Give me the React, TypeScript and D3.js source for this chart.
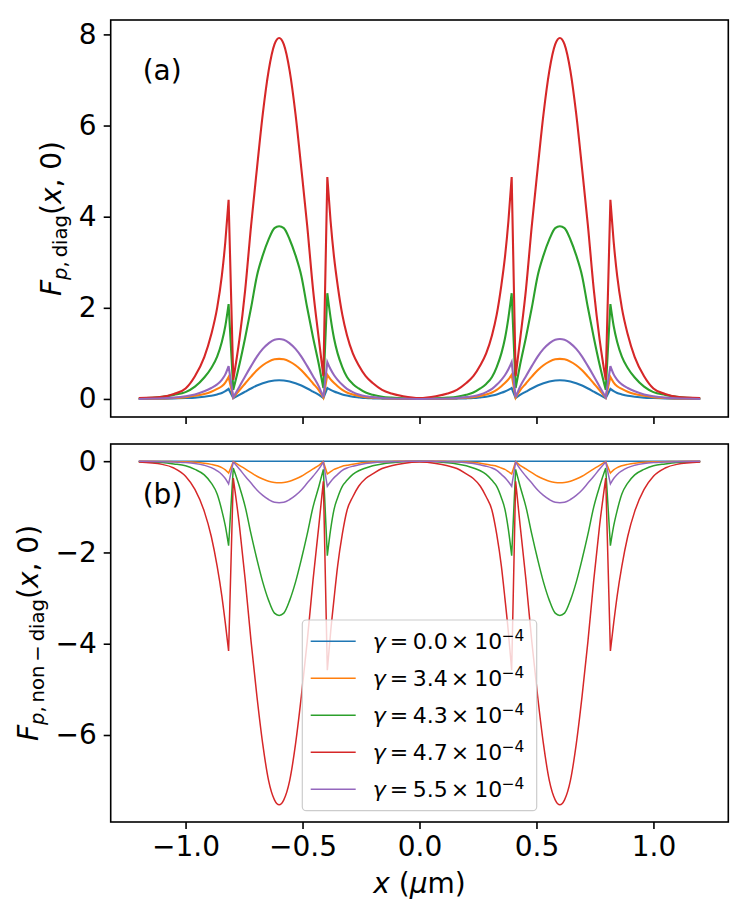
import React, { useRef, useEffect } from "react"
import * as d3 from "d3"

// sample positions along x (µm), shared by every curve
const xGrid = [
  -1.2, -1.1, -1.05, -1.0, -0.96, -0.92, -0.89, -0.865, -0.845, -0.83, -0.816,
  -0.796, -0.77, -0.745, -0.72, -0.695, -0.67, -0.645, -0.62, -0.6, -0.58, -0.555, -0.53, -0.505, -0.48, -0.455, -0.43, -0.411,
  -0.394, -0.38, -0.365, -0.35, -0.33, -0.31, -0.285, -0.26, -0.23, -0.2, -0.16, -0.12, -0.07,
  0,
  0.07, 0.12, 0.16, 0.2, 0.23, 0.26, 0.285, 0.31, 0.33, 0.35, 0.365, 0.38, 0.394,
  0.411, 0.43, 0.455, 0.48, 0.505, 0.53, 0.555, 0.58, 0.6, 0.62, 0.645, 0.67, 0.695, 0.72, 0.745, 0.77, 0.796,
  0.816, 0.83, 0.845, 0.865, 0.89, 0.92, 0.96, 1.0, 1.05, 1.1, 1.2,
]
// indices where the curves jump (interfaces at |x| = 0.4 and 0.8)
const segmentStarts = [0, 11, 28, 55, 72]

// panel (a): F_p,diag
const diagBlue = [
  0, 0.005, 0.01, 0.02, 0.03, 0.05, 0.07, 0.1, 0.13, 0.17, 0.22,
  0.02, 0.09, 0.16, 0.23, 0.295, 0.345, 0.385, 0.405, 0.41, 0.405, 0.385, 0.345, 0.295, 0.23, 0.16, 0.09, 0.02,
  0.24, 0.2, 0.165, 0.135, 0.1, 0.075, 0.05, 0.035, 0.02, 0.013, 0.008, 0.005, 0.002,
  0,
  0.002, 0.005, 0.008, 0.013, 0.02, 0.035, 0.05, 0.075, 0.1, 0.135, 0.165, 0.2, 0.24,
  0.02, 0.09, 0.16, 0.23, 0.295, 0.345, 0.385, 0.405, 0.41, 0.405, 0.385, 0.345, 0.295, 0.23, 0.16, 0.09, 0.02,
  0.22, 0.17, 0.13, 0.1, 0.07, 0.05, 0.03, 0.02, 0.01, 0.005, 0,
]
const diagOrange = [
  0, 0.01, 0.02, 0.04, 0.07, 0.11, 0.16, 0.22, 0.28, 0.36, 0.48,
  0.03, 0.19, 0.34, 0.49, 0.63, 0.74, 0.82, 0.87, 0.88, 0.87, 0.82, 0.74, 0.63, 0.49, 0.34, 0.19, 0.03,
  0.53, 0.43, 0.35, 0.28, 0.2, 0.14, 0.1, 0.065, 0.04, 0.025, 0.015, 0.01, 0,
  0,
  0, 0.01, 0.015, 0.025, 0.04, 0.065, 0.1, 0.14, 0.2, 0.28, 0.35, 0.43, 0.53,
  0.03, 0.19, 0.34, 0.49, 0.63, 0.74, 0.82, 0.87, 0.88, 0.87, 0.82, 0.74, 0.63, 0.49, 0.34, 0.19, 0.03,
  0.48, 0.36, 0.28, 0.22, 0.16, 0.11, 0.07, 0.04, 0.02, 0.01, 0,
]
const diagGreen = [
  0.01, 0.045, 0.09, 0.15, 0.27, 0.47, 0.68, 0.93, 1.25, 1.6, 2.08,
  0.2, 0.75, 1.35, 2.0, 2.7, 3.15, 3.5, 3.75, 3.79, 3.75, 3.5, 3.15, 2.7, 2.0, 1.35, 0.75, 0.24,
  2.32, 1.78, 1.32, 1.0, 0.7, 0.48, 0.33, 0.23, 0.14, 0.09, 0.05, 0.03, 0.015,
  0.01,
  0.015, 0.03, 0.05, 0.09, 0.14, 0.23, 0.33, 0.48, 0.7, 1.0, 1.32, 1.78, 2.32,
  0.24, 0.75, 1.35, 2.0, 2.7, 3.15, 3.5, 3.75, 3.79, 3.75, 3.5, 3.15, 2.7, 2.0, 1.35, 0.75, 0.2,
  2.08, 1.6, 1.25, 0.93, 0.68, 0.47, 0.27, 0.15, 0.09, 0.045, 0.01,
]
const diagRed = [
  0.02, 0.05, 0.11, 0.23, 0.5, 0.92, 1.42, 2.0, 2.7, 3.45, 4.37,
  0.42, 1.3, 2.4, 3.8, 5.05, 6.25, 7.2, 7.78, 7.92, 7.78, 7.2, 6.25, 5.05, 3.8, 2.4, 1.3, 0.5,
  4.87, 3.9, 3.1, 2.5, 1.85, 1.4, 1.0, 0.74, 0.5, 0.35, 0.2, 0.12, 0.06,
  0.02,
  0.06, 0.12, 0.2, 0.35, 0.5, 0.74, 1.0, 1.4, 1.85, 2.5, 3.1, 3.9, 4.87,
  0.5, 1.3, 2.4, 3.8, 5.05, 6.25, 7.2, 7.78, 7.92, 7.78, 7.2, 6.25, 5.05, 3.8, 2.4, 1.3, 0.42,
  4.37, 3.45, 2.7, 2.0, 1.42, 0.92, 0.5, 0.23, 0.11, 0.05, 0.02,
]
const diagPurple = [
  0, 0.015, 0.03, 0.06, 0.1, 0.17, 0.24, 0.32, 0.42, 0.54, 0.72,
  0.04, 0.27, 0.5, 0.72, 0.93, 1.1, 1.22, 1.3, 1.315, 1.3, 1.22, 1.1, 0.93, 0.72, 0.5, 0.27, 0.04,
  0.81, 0.65, 0.52, 0.42, 0.31, 0.22, 0.15, 0.1, 0.06, 0.04, 0.02, 0.01, 0.005,
  0,
  0.005, 0.01, 0.02, 0.04, 0.06, 0.1, 0.15, 0.22, 0.31, 0.42, 0.52, 0.65, 0.81,
  0.04, 0.27, 0.5, 0.72, 0.93, 1.1, 1.22, 1.3, 1.315, 1.3, 1.22, 1.1, 0.93, 0.72, 0.5, 0.27, 0.04,
  0.72, 0.54, 0.42, 0.32, 0.24, 0.17, 0.1, 0.06, 0.03, 0.015, 0,
]

// panel (b): F_p,non-diag
const nonDiagBlue = [
  0, 0, 0, 0, 0, 0, 0, 0, 0, 0, 0,
  0, 0, 0, 0, 0, 0, 0, 0, 0, 0, 0, 0, 0, 0, 0, 0, 0,
  0, 0, 0, 0, 0, 0, 0, 0, 0, 0, 0, 0, 0,
  0,
  0, 0, 0, 0, 0, 0, 0, 0, 0, 0, 0, 0, 0,
  0, 0, 0, 0, 0, 0, 0, 0, 0, 0, 0, 0, 0, 0, 0, 0, 0,
  0, 0, 0, 0, 0, 0, 0, 0, 0, 0, 0,
]
const nonDiagOrange = [
  0, -0.005, -0.01, -0.015, -0.025, -0.045, -0.07, -0.1, -0.14, -0.19, -0.26,
  -0.01, -0.09, -0.17, -0.25, -0.33, -0.39, -0.44, -0.465, -0.47, -0.465, -0.44, -0.39, -0.33, -0.25, -0.17, -0.09, -0.01,
  -0.28, -0.23, -0.18, -0.15, -0.11, -0.09, -0.065, -0.045, -0.03, -0.02, -0.01, -0.005, 0,
  0,
  0, -0.005, -0.01, -0.02, -0.03, -0.045, -0.065, -0.09, -0.11, -0.15, -0.18, -0.23, -0.28,
  -0.01, -0.09, -0.17, -0.25, -0.33, -0.39, -0.44, -0.465, -0.47, -0.465, -0.44, -0.39, -0.33, -0.25, -0.17, -0.09, -0.01,
  -0.26, -0.19, -0.14, -0.1, -0.07, -0.045, -0.025, -0.015, -0.01, -0.005, 0,
]
const nonDiagGreen = [
  -0.01, -0.03, -0.06, -0.1, -0.18, -0.3, -0.48, -0.72, -1.08, -1.42, -1.85,
  -0.15, -0.55, -1.0, -1.6, -2.15, -2.65, -3.05, -3.33, -3.38, -3.33, -3.05, -2.65, -2.15, -1.6, -1.0, -0.55, -0.18,
  -2.07, -1.5, -1.05, -0.8, -0.55, -0.42, -0.29, -0.21, -0.15, -0.1, -0.06, -0.035, -0.015,
  -0.005,
  -0.015, -0.035, -0.06, -0.1, -0.15, -0.21, -0.29, -0.42, -0.55, -0.8, -1.05, -1.5, -2.07,
  -0.18, -0.55, -1.0, -1.6, -2.15, -2.65, -3.05, -3.33, -3.38, -3.33, -3.05, -2.65, -2.15, -1.6, -1.0, -0.55, -0.15,
  -1.85, -1.42, -1.08, -0.72, -0.48, -0.3, -0.18, -0.1, -0.06, -0.03, -0.01,
]
const nonDiagRed = [
  -0.02, -0.07, -0.15, -0.33, -0.62, -1.1, -1.65, -2.3, -2.95, -3.55, -4.16,
  -0.37, -1.4, -2.6, -3.95, -5.15, -6.2, -7.0, -7.42, -7.53, -7.42, -7.0, -6.2, -5.15, -3.95, -2.6, -1.4, -0.44,
  -4.58, -3.75, -3.0, -2.3, -1.6, -1.08, -0.78, -0.55, -0.38, -0.28, -0.16, -0.1, -0.05,
  -0.02,
  -0.05, -0.1, -0.16, -0.28, -0.38, -0.55, -0.78, -1.08, -1.6, -2.3, -3.0, -3.75, -4.58,
  -0.44, -1.4, -2.6, -3.95, -5.15, -6.2, -7.0, -7.42, -7.53, -7.42, -7.0, -6.2, -5.15, -3.95, -2.6, -1.4, -0.37,
  -4.16, -3.55, -2.95, -2.3, -1.65, -1.1, -0.62, -0.33, -0.15, -0.07, -0.02,
]
const nonDiagPurple = [
  0, -0.01, -0.02, -0.03, -0.05, -0.09, -0.14, -0.21, -0.29, -0.38, -0.5,
  -0.02, -0.17, -0.33, -0.48, -0.63, -0.75, -0.84, -0.9, -0.91, -0.9, -0.84, -0.75, -0.63, -0.48, -0.33, -0.17, -0.02,
  -0.55, -0.45, -0.36, -0.29, -0.2, -0.15, -0.11, -0.08, -0.05, -0.035, -0.02, -0.01, -0.005,
  0,
  -0.005, -0.01, -0.02, -0.035, -0.05, -0.08, -0.11, -0.15, -0.2, -0.29, -0.36, -0.45, -0.55,
  -0.02, -0.17, -0.33, -0.48, -0.63, -0.75, -0.84, -0.9, -0.91, -0.9, -0.84, -0.75, -0.63, -0.48, -0.33, -0.17, -0.02,
  -0.5, -0.38, -0.29, -0.21, -0.14, -0.09, -0.05, -0.03, -0.02, -0.01, 0,
]

const gammaLabels = ["0.0", "3.4", "4.3", "4.7", "5.5"]
const colors = ["#1f77b4", "#ff7f0e", "#2ca02c", "#d62728", "#9467bd"]
const xTicks = [-1.0, -0.5, 0.0, 0.5, 1.0]
const diagTicks = [0, 2, 4, 6, 8]
const nonDiagTicks = [0, -2, -4, -6]

const diagSeries = [diagBlue, diagOrange, diagGreen, diagRed, diagPurple]
const nonDiagSeries = [nonDiagBlue, nonDiagOrange, nonDiagGreen, nonDiagRed, nonDiagPurple]

const W = 748
const H = 916
const FONT = "DejaVu Sans"

const App: React.FC = () => {
  const svgRef = useRef<SVGSVGElement>(null)

  useEffect(() => {
    if (!svgRef.current) return
    const svg = d3.select(svgRef.current)
    svg.selectAll("*").remove()

    const left = 110.7
    const right = 728.3
    const panelA = { top: 20, bottom: 417 }
    const panelB = { top: 444, bottom: 822 }

    const pad = (lo: number, hi: number) => {
      const m = (hi - lo) * 0.05
      return [lo - m, hi + m]
    }

    const x = d3
      .scaleLinear()
      .domain(pad(d3.min(xGrid)!, d3.max(xGrid)!))
      .range([left, right])

    const allDiag = diagSeries.flat()
    const allNon = nonDiagSeries.flat()
    const yA = d3
      .scaleLinear()
      .domain(pad(d3.min(allDiag)!, d3.max(allDiag)!))
      .range([panelA.bottom, panelA.top])
    const yB = d3
      .scaleLinear()
      .domain(pad(d3.min(allNon)!, d3.max(allNon)!))
      .range([panelB.bottom, panelB.top])

    // smooth inside each region, straight jumps across the interfaces
    const curvePath = (vals: number[], y: d3.ScaleLinear<number, number>) => {
      const line = d3
        .line<[number, number]>()
        .x((d) => x(d[0]))
        .y((d) => y(d[1]))
        .curve(d3.curveMonotoneX)
      let d = ""
      segmentStarts.forEach((s, k) => {
        const e = k + 1 < segmentStarts.length ? segmentStarts[k + 1] : xGrid.length
        const pts = xGrid.slice(s, e).map((xv, i) => [xv, vals[s + i]] as [number, number])
        const p = line(pts) || ""
        d += k === 0 ? p : "L" + p.slice(1)
      })
      return d
    }

    const drawPanel = (
      panel: { top: number; bottom: number },
      y: d3.ScaleLinear<number, number>,
      series: number[][],
      lw: number,
      yTicks: number[],
      showXLabels: boolean
    ) => {
      const clipId = "clip" + panel.top
      svg
        .append("clipPath")
        .attr("id", clipId)
        .append("rect")
        .attr("x", left)
        .attr("y", panel.top)
        .attr("width", right - left)
        .attr("height", panel.bottom - panel.top)

      svg
        .append("g")
        .attr("clip-path", `url(#${clipId})`)
        .selectAll("path")
        .data(series)
        .enter()
        .append("path")
        .attr("d", (d) => curvePath(d, y))
        .attr("fill", "none")
        .attr("stroke", (_, i) => colors[i])
        .attr("stroke-width", lw)

      const xAxis = svg
        .append("g")
        .attr("transform", `translate(0,${panel.bottom})`)
        .call(
          d3
            .axisBottom(x)
            .tickValues(xTicks)
            .tickSize(7)
            .tickPadding(7)
            .tickFormat((d) => (showXLabels ? d3.format(".1f")(d as number) : ""))
        )
      const yAxis = svg
        .append("g")
        .attr("transform", `translate(${left},0)`)
        .call(
          d3
            .axisLeft(y)
            .tickValues(yTicks)
            .tickSize(7)
            .tickPadding(7)
            .tickFormat(d3.format("d"))
        )
      for (const ax of [xAxis, yAxis]) {
        ax.select(".domain").remove()
        ax.attr("font-family", FONT).attr("font-size", 28)
        ax.selectAll("line").attr("stroke", "#000").attr("stroke-width", 1.6)
        ax.selectAll("text").attr("fill", "#000")
      }

      svg
        .append("rect")
        .attr("x", left)
        .attr("y", panel.top)
        .attr("width", right - left)
        .attr("height", panel.bottom - panel.top)
        .attr("fill", "none")
        .attr("stroke", "#000")
        .attr("stroke-width", 1.6)
    }

    drawPanel(panelA, yA, diagSeries, 2.1, diagTicks, false)
    drawPanel(panelB, yB, nonDiagSeries, 1.5, nonDiagTicks, true)

    // panel tags
    svg
      .append("text")
      .attr("x", left + 32)
      .attr("y", panelA.top + 60)
      .attr("font-family", FONT)
      .attr("font-size", 28)
      .text("(a)")
    svg
      .append("text")
      .attr("x", left + 32)
      .attr("y", panelB.top + 60)
      .attr("font-family", FONT)
      .attr("font-size", 28)
      .text("(b)")

    // y labels (mathtext-like)
    const yLabel = (cx: number, cy: number, sub: string) => {
      const t = svg
        .append("text")
        .attr("transform", `translate(${cx},${cy}) rotate(-90)`)
        .attr("text-anchor", "middle")
        .attr("font-family", FONT)
        .attr("font-size", 28)
      t.append("tspan").attr("font-style", "italic").text("F")
      t.append("tspan").attr("font-style", "italic").attr("font-size", 19.6).attr("dy", 6).text("p")
      t.append("tspan").attr("font-size", 19.6).text(sub)
      t.append("tspan").attr("dy", -6).text("(")
      t.append("tspan").attr("font-style", "italic").text("x")
      t.append("tspan").text(", 0)")
    }
    yLabel(61, (panelA.top + panelA.bottom) / 2, ",\u2009diag")
    yLabel(38, (panelB.top + panelB.bottom) / 2, ",\u2009non\u2009\u2212\u2009diag")

    // x label
    const xl = svg
      .append("text")
      .attr("x", (left + right) / 2)
      .attr("y", 893)
      .attr("text-anchor", "middle")
      .attr("font-family", FONT)
      .attr("font-size", 28)
    xl.append("tspan").attr("font-style", "italic").text("x")
    xl.append("tspan").text(" (")
    xl.append("tspan").attr("font-style", "italic").text("\u03bc")
    xl.append("tspan").text("m)")

    // legend
    const lg = svg.append("g")
    lg.append("rect")
      .attr("x", 302.3)
      .attr("y", 620)
      .attr("width", 234.4)
      .attr("height", 190.7)
      .attr("rx", 4)
      .attr("fill", "#fff")
      .attr("fill-opacity", 0.8)
      .attr("stroke", "#cccccc")
      .attr("stroke-width", 1.2)

    gammaLabels.forEach((g, i) => {
      const ry = 641.3 + i * 37
      lg.append("line")
        .attr("x1", 310.7)
        .attr("x2", 355.7)
        .attr("y1", ry)
        .attr("y2", ry)
        .attr("stroke", colors[i])
        .attr("stroke-width", 1.5)
      const x0 = 372.7
      const t = lg
        .append("text")
        .attr("y", ry + 8)
        .attr("font-family", FONT)
        .attr("font-size", 22)
      t.append("tspan").attr("x", x0).attr("font-style", "italic").text("\u03b3")
      t.append("tspan").attr("x", x0 + 17).text("=")
      t.append("tspan").attr("x", x0 + 40).text(g)
      t.append("tspan").attr("x", x0 + 78).text("\u00d7")
      t.append("tspan").attr("x", x0 + 101.6).text("10")
      t.append("tspan")
        .attr("x", x0 + 129)
        .attr("dy", -8)
        .attr("font-size", 15.4)
        .text("\u22124")
    })
  }, [])

  return (
    <svg
      ref={svgRef}
      width={W}
      height={H}
      style={{ position: "absolute", left: 0, top: 0, background: "#fff" }}
    />
  )
}

export default App
